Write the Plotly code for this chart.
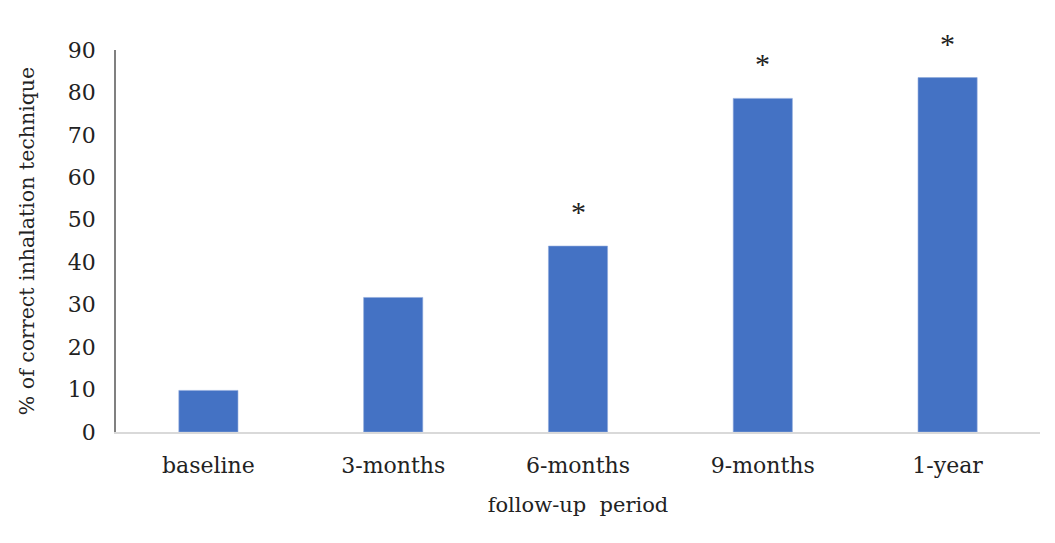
import plotly.graph_objects as go

categories = ["baseline", "3-months", "6-months", "9-months", "1-year"]
values = [9.8, 31.7, 43.8, 78.6, 83.5]
significant = ["", "", "*", "*", "*"]
y_ticks = [0, 10, 20, 30, 40, 50, 60, 70, 80, 90]

FONT = "DejaVu Serif"

fig = go.Figure()
fig.add_trace(go.Bar(
    x=categories, y=values,
    marker=dict(color="#4472C4", line=dict(color="#8FAADC", width=0.6)),
    width=0.32,
    showlegend=False,
))

for c, v, s in zip(categories, values, significant):
    if s:
        fig.add_annotation(x=c, y=v, text=s, showarrow=False,
                           yanchor="bottom", yshift=16,
                           font=dict(family="Liberation Serif", size=30, color="#222222"))

# page body has an 8px margin, so the figure is sized to fit the window
fig.update_layout(
    width=1039, height=527,
    margin=dict(l=108, r=7, t=42, b=103),
    paper_bgcolor="white", plot_bgcolor="white",
    font=dict(family=FONT, size=21, color="#222222"),
    bargap=0.68,
)
fig.update_xaxes(
    automargin=False,
    showline=True, linecolor="#D9D9D9", linewidth=1.5,
    showgrid=False, ticks="", ticklabelstandoff=13,
    title=dict(text="follow-up  period", font=dict(family=FONT, size=21), standoff=20),
    tickfont=dict(family=FONT, size=22),
)
fig.update_yaxes(
    automargin=False,
    range=[0, 90], tickvals=y_ticks,
    showline=True, linecolor="#808080", linewidth=1.5,
    showgrid=False, zeroline=False, ticks="", ticklabelstandoff=14,
    title=dict(text="% of correct inhalation technique", font=dict(family=FONT, size=20.5), standoff=28),
    tickfont=dict(family=FONT, size=22),
)

fig.write_html("out.html")
